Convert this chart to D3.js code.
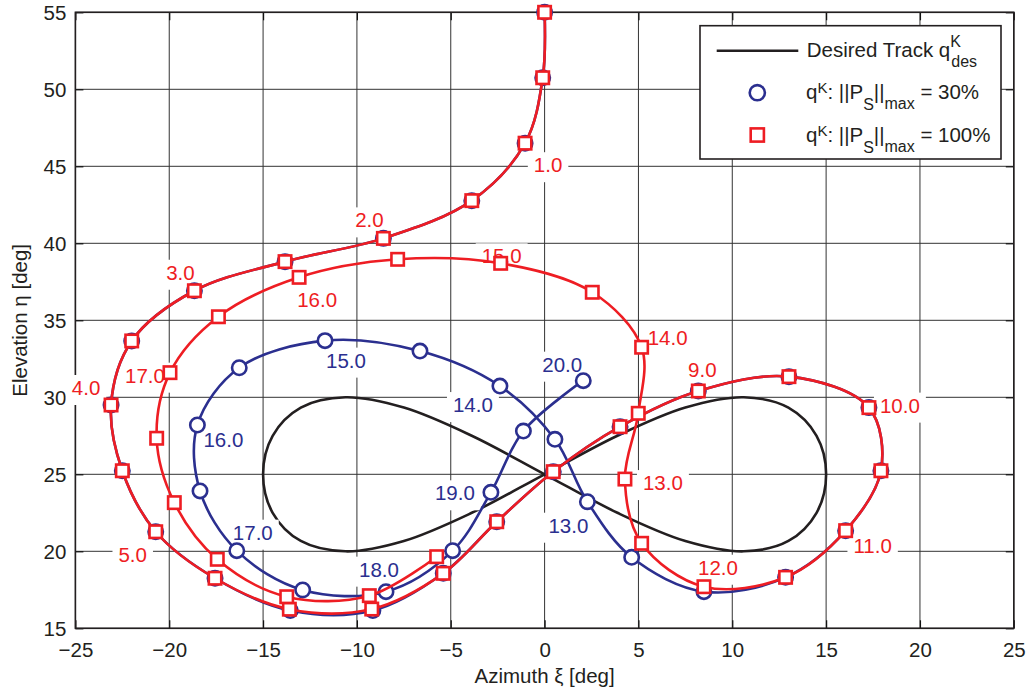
<!DOCTYPE html>
<html>
<head>
<meta charset="utf-8">
<script src="https://cdn.jsdelivr.net/npm/d3@7"></script>
<style>
  html, body { margin: 0; padding: 0; background: #fff; }
  svg { display: block; font-family: "Liberation Sans", Arial, Helvetica, sans-serif; }
</style>
</head>
<body>
<svg id="chart" width="1027" height="693"></svg>
<script>
// ---- Desired figure-eight track (azimuth / elevation, deg) ----
const desXi  = [0, 3.88, 7.5, 10.61, 12.99, 14.49, 15, 14.49, 12.99, 10.61, 7.5, 3.88,
                0, -3.88, -7.5, -10.61, -12.99, -14.49, -15, -14.49, -12.99, -10.61, -7.5, -3.88];
const desEta = [25, 27.5, 29.33, 30, 29.33, 27.5, 25, 22.5, 20.67, 20, 20.67, 22.5,
                25, 27.5, 29.33, 30, 29.33, 27.5, 25, 22.5, 20.67, 20, 20.67, 22.5];

// ---- Simulated kite position, sampled every 0.5 s from t = 0.0 to 20.0 s ----
// ||P_S||max = 30 %
const blueXi  = [0, -0.1, -1.04, -3.88, -8.59, -13.83, -18.66, -22.0, -23.1, -22.5, -20.72, -17.56,
                 -13.55, -9.15, -5.4, -2.55, 0.46, 4.02, 8.19, 13.02, 17.28, 17.92, 16.04, 12.84,
                 8.49, 4.64, 2.28, 0.55, -2.38, -6.64, -11.7, -16.27, -18.5, -18.36, -16.4, -12.89,
                 -8.45, -4.9, -2.86, -1.13, 2.06];
const blueEta = [55, 50.75, 46.5, 42.77, 40.32, 38.81, 36.92, 33.66, 29.5, 25.23, 21.27, 18.25,
                 16.15, 16.15, 18.57, 21.92, 25.17, 28.09, 30.41, 31.34, 29.33, 25.23, 21.34, 18.31,
                 17.38, 19.61, 23.22, 27.27, 30.73, 33.0, 33.68, 31.92, 28.2, 23.92, 20.04, 17.49,
                 17.38, 20.04, 23.83, 27.81, 31.08];
// ||P_S||max = 100 %
const redXi  = [0, -0.1, -1.04, -3.88, -8.59, -13.83, -18.66, -22.0, -23.1, -22.5, -20.72, -17.56,
                -13.6, -9.21, -5.4, -2.55, 0.46, 4.02, 8.19, 13.02, 17.28, 17.92, 16.04, 12.84,
                8.49, 5.17, 4.28, 4.99, 5.17, 2.54, -2.34, -7.83, -13.08, -17.38, -19.96, -20.67,
                -19.73, -17.44, -13.74, -9.34, -5.75];
const redEta = [55, 50.75, 46.5, 42.77, 40.32, 38.81, 36.92, 33.66, 29.5, 25.23, 21.27, 18.25,
                16.24, 16.25, 18.57, 21.92, 25.17, 28.09, 30.41, 31.34, 29.33, 25.23, 21.34, 18.31,
                17.7, 20.52, 24.69, 28.96, 33.25, 36.82, 38.7, 38.96, 37.79, 35.23, 31.6, 27.34,
                23.16, 19.48, 17.05, 17.12, 19.65];

// ---- Time annotations (s) ----
const redTimes  = ["1.0", "2.0", "3.0", "4.0", "5.0", "9.0", "10.0", "11.0", "12.0",
                   "13.0", "14.0", "15.0", "16.0", "17.0"];
const blueTimes = ["13.0", "14.0", "15.0", "16.0", "17.0", "18.0", "19.0", "20.0"];

// ---- Axis ticks ----
const xTicks = [-25, -20, -15, -10, -5, 0, 5, 10, 15, 20, 25];
const yTicks = [15, 20, 25, 30, 35, 40, 45, 50, 55];

// ---- Styling / layout ----
const RED = "#ee1d23", BLUE = "#2b2f8f", INK = "#231f20";
const FONT = 20.5;
const SUB = 16;
const sampleStep = 0.5;
// label placement relative to its marker: [dx to text centre, dy to baseline]
const redLabelOffset = {
  "1.0": [23, 29], "2.0": [-14, -11], "3.0": [-14, -11], "4.0": [-25, -10], "5.0": [-23, 30],
  "9.0": [4, -14], "10.0": [31, 5], "11.0": [27, 22], "12.0": [14, -12], "13.0": [38, 11],
  "14.0": [26, -2], "15.0": [1, 0], "16.0": [18, 30], "17.0": [-25, 10]
};
const blueLabelOffset = {
  "13.0": [-19, 31], "14.0": [-27, 26], "15.0": [21, 27], "16.0": [26, 22],
  "17.0": [16, -11], "18.0": [-7, -15], "19.0": [-36, 8], "20.0": [-21, -9]
};

const svg = d3.select("#chart");
const x = d3.scaleLinear().domain([-25, 25]).range([75.4, 1013.8]);
const y = d3.scaleLinear().domain([15, 55]).range([628.3, 12.3]);
const [x0, x1] = x.range();
const [y0, y1] = [y(55), y(15)];

// grid
const grid = svg.append("g").attr("stroke", "#333").attr("stroke-width", 1);
xTicks.forEach(t => grid.append("line")
  .attr("x1", x(t)).attr("x2", x(t)).attr("y1", y0).attr("y2", y1));
yTicks.forEach(t => grid.append("line")
  .attr("x1", x0).attr("x2", x1).attr("y1", y(t)).attr("y2", y(t)));

// axes (box with inward ticks on all four sides)
const xAxisB = d3.axisBottom(x).tickValues(xTicks).tickSizeInner(-8).tickSizeOuter(0)
  .tickFormat(d => d < 0 ? "\u2212" + Math.abs(d) : String(d));
const yAxisL = d3.axisLeft(y).tickValues(yTicks).tickSizeInner(-8).tickSizeOuter(0);
const gx = svg.append("g").attr("transform", `translate(0,${y1})`).call(xAxisB);
const gy = svg.append("g").attr("transform", `translate(${x0},0)`).call(yAxisL);
svg.append("g").attr("transform", `translate(0,${y0})`)
  .call(d3.axisTop(x).tickValues(xTicks).tickSizeInner(-8).tickSizeOuter(0).tickFormat(""));
svg.append("g").attr("transform", `translate(${x1},0)`)
  .call(d3.axisRight(y).tickValues(yTicks).tickSizeInner(-8).tickSizeOuter(0).tickFormat(""));
svg.selectAll(".domain").remove();
svg.selectAll(".tick line").attr("stroke", "#111").attr("stroke-width", 1.2);
[gx, gy].forEach(g => g.selectAll("text")
  .attr("font-size", FONT).attr("fill", INK).attr("font-family", null));
gx.selectAll("text").attr("dy", null).attr("y", 29);
gy.selectAll("text").attr("dy", "0.36em").attr("x", -9);

svg.append("rect")
  .attr("x", x0).attr("y", y0).attr("width", x1 - x0).attr("height", y1 - y0)
  .attr("fill", "none").attr("stroke", INK).attr("stroke-width", 1.6);

// axis titles
svg.append("text").attr("x", x(0)).attr("y", 683).attr("text-anchor", "middle")
  .attr("font-size", FONT).attr("fill", INK).text("Azimuth \u03BE [deg]");
svg.append("text").attr("transform", `translate(27,${(y0 + y1) / 2}) rotate(-90)`)
  .attr("text-anchor", "middle").attr("font-size", FONT).attr("fill", INK)
  .text("Elevation \u03B7 [deg]");

// desired track
const desPts = desXi.map((v, i) => [x(v), y(desEta[i])]);
svg.append("path")
  .attr("d", d3.line().curve(d3.curveCatmullRomClosed.alpha(0.5))(desPts))
  .attr("fill", "none").attr("stroke", INK).attr("stroke-width", 2.6);

// time annotations (white boxes sit over grid and track, under trajectories)
function annotate(times, xs, ys, offsets, color) {
  const g = svg.append("g");
  times.forEach(lbl => {
    const i = Math.round(parseFloat(lbl) / sampleStep);
    const [dx, dy] = offsets[lbl];
    const cx = x(xs[i]) + dx, by = y(ys[i]) + dy;
    const box = g.append("rect").attr("fill", "#fff");
    const t = g.append("text").attr("x", cx).attr("y", by).attr("text-anchor", "middle")
      .attr("font-size", FONT).attr("fill", color).text(lbl);
    const w = t.node().getComputedTextLength();
    box.attr("x", cx - w / 2 - 6).attr("y", by - 20).attr("width", w + 12).attr("height", 30);
  });
}
annotate(redTimes, redXi, redEta, redLabelOffset, RED);
annotate(blueTimes, blueXi, blueEta, blueLabelOffset, BLUE);

// trajectories
const traj = d3.line().curve(d3.curveCatmullRom.alpha(0.5));
function drawRun(xs, ys, color, marker) {
  const pts = xs.map((v, i) => [x(v), y(ys[i])]);
  svg.append("path").attr("d", traj(pts)).attr("fill", "none")
    .attr("stroke", color).attr("stroke-width", 2.6).attr("stroke-linejoin", "round");
  const g = svg.append("g").attr("fill", "#fff").attr("stroke", color).attr("stroke-width", 2.6);
  pts.forEach(([px, py]) => {
    if (marker === "circle") g.append("circle").attr("cx", px).attr("cy", py).attr("r", 7.2);
    else g.append("rect").attr("x", px - 6.2).attr("y", py - 6.2).attr("width", 12.4).attr("height", 12.4);
  });
}
drawRun(blueXi, blueEta, BLUE, "circle");
drawRun(redXi, redEta, RED, "square");

// legend
const lg = svg.append("g");
lg.append("rect").attr("x", 700).attr("y", 25.7).attr("width", 301).attr("height", 133.3)
  .attr("fill", "#fff").attr("stroke", INK).attr("stroke-width", 1.6);
lg.append("line").attr("x1", 716.7).attr("x2", 798.3).attr("y1", 50.7).attr("y2", 50.7)
  .attr("stroke", INK).attr("stroke-width", 2.6);
const t1 = lg.append("text").attr("x", 806.7).attr("y", 57.3).attr("font-size", FONT)
  .attr("fill", INK).text("Desired Track q");
const qEnd = 806.7 + t1.node().getComputedTextLength();
lg.append("text").attr("x", qEnd).attr("y", 46.5).attr("font-size", SUB).attr("fill", INK).text("K");
lg.append("text").attr("x", qEnd + 1).attr("y", 67).attr("font-size", SUB).attr("fill", INK).text("des");

lg.append("circle").attr("cx", 757.3).attr("cy", 92.7).attr("r", 7.6)
  .attr("fill", "#fff").attr("stroke", BLUE).attr("stroke-width", 2.6);
lg.append("rect").attr("x", 757.3 - 6.6).attr("y", 135 - 6.6).attr("width", 13.2).attr("height", 13.2)
  .attr("fill", "#fff").attr("stroke", RED).attr("stroke-width", 2.6);

function legendEntry(yb, pct) {
  const t = lg.append("text").attr("x", 806).attr("y", yb).attr("font-size", FONT).attr("fill", INK);
  t.append("tspan").text("q");
  t.append("tspan").attr("font-size", 15).attr("dy", -6).text("K");
  t.append("tspan").attr("dy", 6).text(": ||P");
  t.append("tspan").attr("font-size", SUB).attr("dy", 11).text("S");
  t.append("tspan").attr("dy", -11).text("||");
  t.append("tspan").attr("font-size", SUB).attr("dy", 10).text("max");
  t.append("tspan").attr("dy", -10).text(" = " + pct);
}
legendEntry(99, "30%");
legendEntry(141.7, "100%");
</script>
</body>
</html>
